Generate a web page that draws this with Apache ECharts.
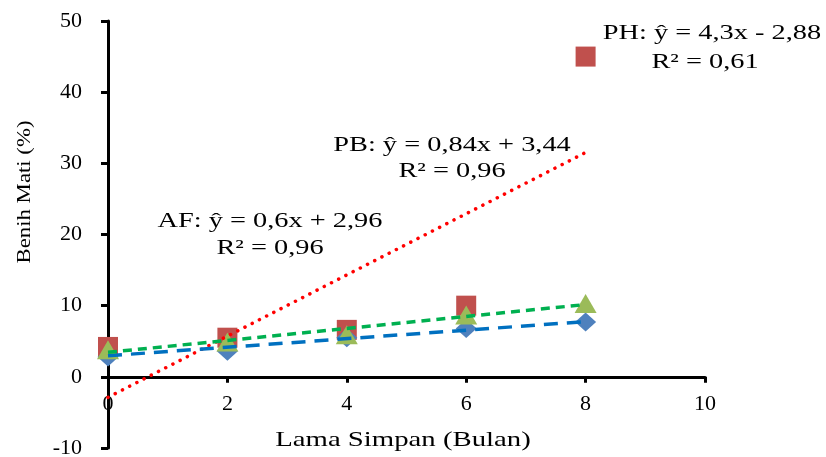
<!DOCTYPE html>
<html>
<head>
<meta charset="UTF-8"/>
<title>Benih Mati</title>
<script src="https://cdn.jsdelivr.net/npm/echarts@6/dist/echarts.min.js"></script>
<style>
  html, body { margin: 0; padding: 0; background: #fff; }
  #main { width: 826px; height: 457px; }
</style>
</head>
<body>
<div id="main"></div>
<script type="text/javascript">
// lama simpan (bulan)
var months = [0, 2, 4, 6, 8];
// benih mati (%) per perlakuan
var valAF = [2.8, 3.6, 5.5, 6.8, 7.7];
var valPH = [4.2, 5.5, 6.6, 10.0, 45.0];
var valPB = [3.8, 4.9, 5.9, 8.7, 10.3];
// garis tren, nilai di x = 0 dan x = 8
var trendX = [0, 8];
var trendAF = [2.96, 7.76];
var trendPH = [-2.88, 31.52];
var trendPB = [3.44, 10.16];
// label sumbu
var xTicks = [0, 2, 4, 6, 8, 10];
var yTicks = [-10, 0, 10, 20, 30, 40, 50];

function pairs(xs, ys) {
    var out = [];
    for (var i = 0; i < xs.length; i++) {
        out.push([xs[i], ys[i]]);
    }
    return out;
}

var font = 'Liberation Serif';
// teks di gambar asli agak melebar, jadi diregangkan sedikit
function label(txt, x, y, size, sx, rot) {
    return {
        type: 'text', x: x, y: y, rotation: rot || 0, scaleX: sx,
        style: { text: txt, font: size + 'px "Liberation Serif"', fill: '#000',
                 align: 'center', verticalAlign: 'middle' }
    };
}

var myChart = echarts.init(document.getElementById('main'));

var option = {
    animation: false,
    backgroundColor: '#fff',
    grid: { left: 108, right: 121, top: 21, bottom: 9, outerBoundsMode: 'none' },
    xAxis: {
        type: 'value',
        min: xTicks[0],
        max: xTicks[xTicks.length - 1],
        interval: 2,
        axisLine: { onZero: true, lineStyle: { color: '#000', width: 3 } },
        axisTick: { show: true, inside: false, length: 6, lineStyle: { color: '#000', width: 3 } },
        // label dihitung dari tepi bawah grid, bukan dari garis nol
        axisLabel: { margin: -55, fontFamily: font, fontSize: 22, color: '#000',
                     hideOverlap: false, showMinLabel: true, showMaxLabel: true },
        splitLine: { show: false }
    },
    yAxis: {
        type: 'value',
        min: yTicks[0],
        max: yTicks[yTicks.length - 1],
        interval: 10,
        axisLine: { show: true, onZero: false, lineStyle: { color: '#000', width: 3 } },
        axisTick: { show: true, length: 7, lineStyle: { color: '#000', width: 3 } },
        axisLabel: { margin: 26, fontFamily: font, fontSize: 22, color: '#000' },
        splitLine: { show: false }
    },
    graphic: [
        label('Benih Mati (%)', 25, 192, 19, 1.2, Math.PI / 2),
        label('Lama Simpan (Bulan)', 403, 440, 21, 1.37),
        label('PH: ŷ = 4,3x - 2,88', 712, 33, 21, 1.35),
        label('R² = 0,61', 705, 62, 21, 1.35),
        label('PB: ŷ = 0,84x + 3,44', 452, 145, 21, 1.35),
        label('R² = 0,96', 452, 171, 21, 1.35),
        label('AF: ŷ = 0,6x + 2,96', 270, 221, 21, 1.35),
        label('R² = 0,96', 270, 248, 21, 1.35)
    ],
    series: [
        {
            name: 'PH', type: 'scatter', symbol: 'rect', symbolSize: 20, z: 2,
            itemStyle: { color: '#C0504D', opacity: 1 },
            data: pairs(months, valPH)
        },
        {
            name: 'AF', type: 'scatter', symbol: 'diamond', symbolSize: [21, 19], z: 3,
            itemStyle: { color: '#4F81BD', opacity: 1 },
            data: pairs(months, valAF)
        },
        {
            name: 'PB', type: 'scatter', symbol: 'triangle', symbolSize: [22, 19], z: 4,
            itemStyle: { color: '#9BBB59', opacity: 1 },
            data: pairs(months, valPB)
        },
        {
            name: 'tren PH', type: 'line', showSymbol: false, z: 5,
            lineStyle: { color: '#FF0000', width: 3.5, type: [0.1, 8], cap: 'round' },
            data: pairs(trendX, trendPH)
        },
        {
            name: 'tren AF', type: 'line', showSymbol: false, z: 5,
            lineStyle: { color: '#0070C0', width: 3.5, type: [14, 9] },
            data: pairs(trendX, trendAF)
        },
        {
            name: 'tren PB', type: 'line', showSymbol: false, z: 5,
            lineStyle: { color: '#00B050', width: 3.5, type: [9, 6] },
            data: pairs(trendX, trendPB)
        }
    ]
};

myChart.setOption(option);
</script>
</body>
</html>
